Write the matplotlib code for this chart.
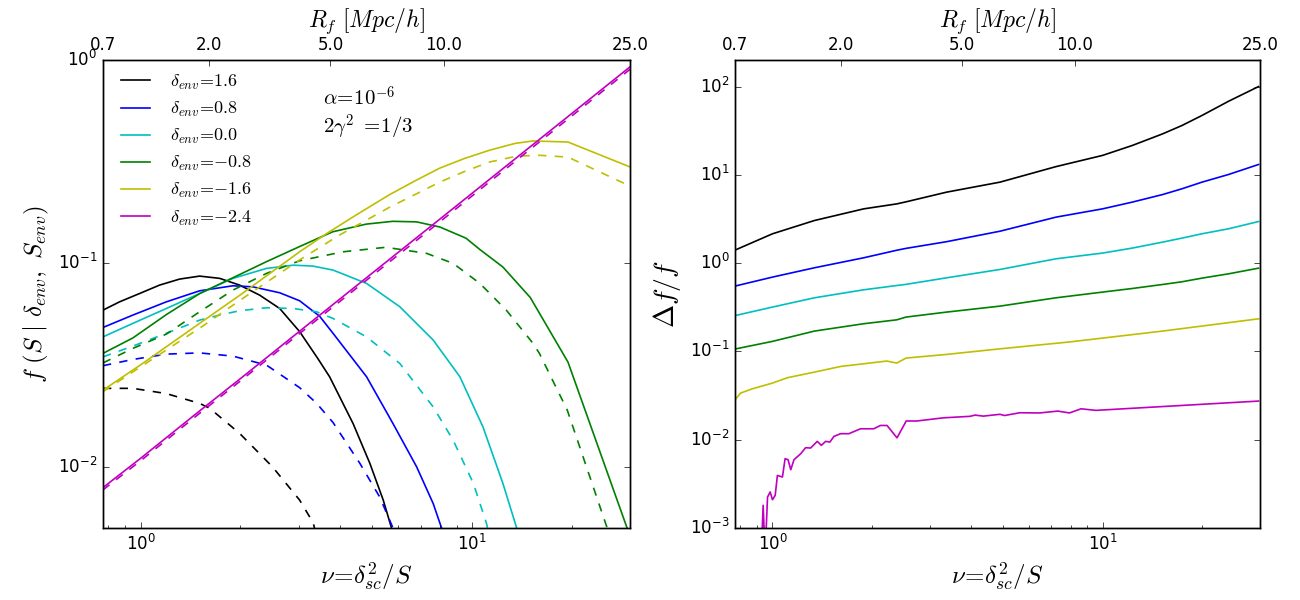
import numpy as np
import matplotlib
matplotlib.use("Agg")
import matplotlib.pyplot as plt

plt.style.use('classic')
plt.rcParams['mathtext.fontset'] = 'cm'
plt.rcParams['font.family'] = ['DejaVu Sans']

# ---- data ----
labels = [r'$\delta_{env}\!=\!{1.6}$', r'$\delta_{env}\!=\!{0.8}$', r'$\delta_{env}\!=\!{0.0}$',
          r'$\delta_{env}\!=\!{-0.8}$', r'$\delta_{env}\!=\!{-1.6}$', r'$\delta_{env}\!=\!{-2.4}$']
colors = ['k', 'b', 'c', 'g', 'y', 'm']

# left panel: f(S|delta_env,S_env), solid and dashed
nu_k = [0.77, 0.864, 0.993, 1.141, 1.311, 1.507, 1.733, 1.99, 2.288, 2.63, 3.02, 3.43, 3.72,
        4.38, 4.92, 5.40, 5.72, 5.85]
f_k = [0.0589, 0.0647, 0.0711, 0.0782, 0.0837, 0.0866, 0.0844, 0.0782, 0.0698, 0.060, 0.0462,
       0.0340, 0.0277, 0.0163, 0.0104, 0.00686, 0.005, 0.0045]
nu_kd = [0.77, 0.948, 1.196, 1.507, 1.616, 1.99, 2.5, 3.02, 3.32, 3.4]
f_kd = [0.0243, 0.0243, 0.0229, 0.0205, 0.0194, 0.0146, 0.0100, 0.00686, 0.0053, 0.0045]

nu_b = [0.77, 0.948, 1.196, 1.507, 1.90, 2.18, 2.63, 3.02, 3.47, 3.81, 4.81, 5.78, 6.81, 7.64,
        8.1, 8.25]
f_b = [0.0484, 0.0557, 0.0647, 0.0733, 0.0776, 0.0767, 0.0717, 0.0655, 0.055, 0.0453, 0.0277,
       0.0163, 0.0100, 0.0066, 0.0050, 0.0045]
nu_bd = [0.77, 0.948, 1.196, 1.507, 1.90, 2.40, 3.02, 3.40, 3.81, 4.59, 5.27, 5.78, 5.9]
f_bd = [0.0314, 0.0337, 0.0358, 0.0363, 0.035, 0.0316, 0.0245, 0.0205, 0.0165, 0.0104, 0.0071,
        0.005, 0.0045]

nu_c = [0.77, 0.948, 1.196, 1.507, 1.90, 2.40, 2.89, 3.31, 3.81, 4.81, 6.06, 7.64, 9.2, 10.8,
        12.4, 13.65, 13.9]
f_c = [0.0435, 0.0507, 0.060, 0.0711, 0.0844, 0.0945, 0.098, 0.097, 0.0927, 0.0797, 0.0612,
       0.042, 0.0277, 0.0157, 0.0083, 0.005, 0.0045]
nu_cd = [0.77, 0.948, 1.196, 1.507, 1.733, 1.99, 2.40, 2.89, 3.40, 3.81, 4.81, 6.06, 7.64, 8.78,
         10.1, 11.07, 11.3]
f_cd = [0.0347, 0.0392, 0.0453, 0.0526, 0.0557, 0.0585, 0.0605, 0.060, 0.0578, 0.0536, 0.0435,
        0.0322, 0.0197, 0.0135, 0.0083, 0.00526, 0.0045]

nu_g = [0.77, 0.948, 1.196, 1.507, 1.9, 2.4, 3.02, 3.8, 4.8, 5.77, 6.81, 8.0, 9.6, 10.57, 12.4,
        15.0, 19.5, 29.4, 30.0]
f_g = [0.0361, 0.043, 0.056, 0.071, 0.085, 0.102, 0.121, 0.143, 0.156, 0.161, 0.160, 0.151,
       0.133, 0.117, 0.096, 0.068, 0.0327, 0.005, 0.0047]
nu_gd = [0.77, 0.948, 1.196, 1.507, 1.9, 2.4, 3.02, 4.08, 5.5, 7.3, 8.78, 10.57, 12.7, 15.3,
         16.0, 19.4, 25.6, 26.3]
f_gd = [0.0324, 0.0382, 0.0449, 0.0578, 0.0739, 0.0893, 0.103, 0.114, 0.120, 0.112, 0.100,
        0.0797, 0.0589, 0.0404, 0.036, 0.019, 0.005, 0.0045]

nu_y = [0.77, 1.0, 1.507, 2.0, 3.02, 3.64, 4.5, 5.65, 6.81, 8.0, 9.5, 11.3, 13.5, 15.3, 19.5, 30.0]
f_y = [0.0238, 0.0317, 0.0507, 0.070, 0.114, 0.140, 0.174, 0.218, 0.257, 0.294, 0.328, 0.36,
       0.389, 0.40, 0.395, 0.298]
nu_yd = [0.77, 1.0, 1.507, 2.0, 3.02, 3.99, 5.65, 6.81, 8.0, 9.5, 11.3, 13.7, 16.0, 19.5, 30.0]
f_yd = [0.0234, 0.031, 0.048, 0.066, 0.104, 0.138, 0.189, 0.22, 0.251, 0.283, 0.315, 0.337,
        0.34, 0.333, 0.24]

nu_m = [0.77, 1.0, 1.5, 2.0, 3.0, 5.0, 8.0, 12.0, 20.0, 30.0]
f_m = [0.0079, 0.011, 0.0187, 0.0271, 0.046, 0.0895, 0.165, 0.28, 0.545, 0.925]
f_md = [0.0077, 0.0107, 0.0182, 0.0264, 0.0448, 0.087, 0.160, 0.272, 0.53, 0.90]

left_solid = [(nu_k, f_k), (nu_b, f_b), (nu_c, f_c), (nu_g, f_g), (nu_y, f_y), (nu_m, f_m)]
left_dash = [(nu_kd, f_kd), (nu_bd, f_bd), (nu_cd, f_cd), (nu_gd, f_gd), (nu_yd, f_yd), (nu_m, f_md)]

# right panel: Delta f / f
nu_r = [0.775, 1.0, 1.34, 1.89, 2.38, 2.54, 3.37, 4.89, 7.23, 10.0, 12.3, 15.2, 17.4, 20.0, 24.1, 29.7]
df_k = [1.42, 2.15, 3.04, 4.12, 4.69, 4.95, 6.37, 8.27, 12.4, 16.6, 21.5, 29.1, 36.2, 47.0, 68.2, 100.0]
df_b = [0.553, 0.695, 0.886, 1.15, 1.40, 1.47, 1.75, 2.30, 3.32, 4.12, 4.91, 5.98, 6.95, 8.26, 10.1, 13.1]
df_c = [0.256, 0.318, 0.405, 0.499, 0.558, 0.575, 0.682, 0.848, 1.12, 1.30, 1.48, 1.73, 1.92, 2.15, 2.45, 2.96]
df_g = [0.107, 0.13, 0.170, 0.206, 0.228, 0.245, 0.279, 0.326, 0.405, 0.470, 0.516, 0.573, 0.615, 0.676,
        0.757, 0.877]
nu_ry = [0.775, 0.80, 0.87, 1.0, 1.11, 1.34, 1.61, 1.89, 2.22, 2.38, 2.54, 3.37, 4.89, 7.94, 15.2, 29.7]
df_y = [0.0291, 0.0337, 0.0378, 0.0438, 0.0504, 0.0583, 0.0676, 0.0725, 0.0778, 0.0738, 0.0841,
        0.0925, 0.107, 0.128, 0.170, 0.234]
nu_rm = [0.925, 0.929, 0.937, 0.950, 0.966, 0.984, 1.0, 1.019, 1.035, 1.072, 1.092, 1.115, 1.136,
         1.162, 1.218, 1.260, 1.305, 1.367, 1.406, 1.449, 1.493, 1.535, 1.608, 1.704, 1.848,
         2.027, 2.123, 2.224, 2.384, 2.543, 2.739, 3.297, 3.968, 4.108, 4.355, 4.888, 5.05,
         5.61, 6.45, 7.32, 7.94, 8.61, 9.55, 29.7]
df_m = [0.0005, 0.0008, 0.00181, 0.0005, 0.00224, 0.00256, 0.00209, 0.00234, 0.00394, 0.00378,
        0.0061, 0.00594, 0.00457, 0.00594, 0.00695, 0.00812, 0.00805, 0.00958, 0.00863, 0.00958,
        0.00941, 0.0109, 0.0117, 0.0117, 0.0133, 0.0133, 0.0145, 0.0145, 0.0105, 0.0163, 0.0163,
        0.0177, 0.0184, 0.0190, 0.0185, 0.0194, 0.0188, 0.0202, 0.0201, 0.0211, 0.0201, 0.0224,
        0.0215, 0.0274]
right_lines = [(nu_r, df_k), (nu_r, df_b), (nu_r, df_c), (nu_r, df_g), (nu_ry, df_y), (nu_rm, df_m)]

# top axis: smoothing radius R_f placed at the matching nu
rf_nu = [0.77, 1.61, 3.74, 8.23, 30.0]
rf_labels = ['0.7', '2.0', '5.0', '10.0', '25.0']

xlim = (0.77, 30.0)

fig = plt.figure(figsize=(13, 6), dpi=100, facecolor='white')
ax1 = fig.add_axes([0.0792, 0.12, 0.4054, 0.78])
ax2 = fig.add_axes([0.5654, 0.12, 0.4038, 0.78])

for (x, y), (xd, yd), c, lab in zip(left_solid, left_dash, colors, labels):
    ax1.plot(x, y, '-', color=c, lw=1.2, label=lab)
    ax1.plot(xd, yd, '--', color=c, lw=1.2)
for (x, y), c in zip(right_lines, colors):
    ax2.plot(x, y, '-', color=c, lw=1.2)

ax1.set_xscale('log')
ax1.set_yscale('log')
ax1.set_xlim(xlim)
ax1.set_ylim(5e-3, 1.0)
ax1.set_xlabel(r'$\nu\!=\!\delta_{sc}^2/S$', fontsize=18)
ax1.set_ylabel(r'$f\ (S\ |\ \delta_{env},\ S_{env})$', fontsize=18)
ax1.legend(loc='upper left', frameon=False, fontsize=13, handlelength=2.2,
           labelspacing=0.45, borderaxespad=0.3)
ax1.text(0.417, 0.92, r'$\alpha\!=\!10^{-6}$', transform=ax1.transAxes, fontsize=15, va='center')
ax1.text(0.417, 0.855, r'$2\gamma^2\ =\!1/3$', transform=ax1.transAxes, fontsize=15, va='center')

ax2.set_xscale('log')
ax2.set_yscale('log')
ax2.set_xlim(xlim)
ax2.set_ylim(1e-3, 200)
ax2.set_xlabel(r'$\nu\!=\!\delta_{sc}^2/S$', fontsize=18)
ax2.set_ylabel(r'$\Delta f/f$', fontsize=20)

for ax in (ax1, ax2):
    ax.tick_params(labelsize=12)
    top = ax.twiny()
    top.set_xscale('log')
    top.set_xlim(xlim)
    top.set_xticks(rf_nu)
    top.set_xticklabels(rf_labels, fontsize=12)
    top.minorticks_off()
    top.set_xlabel(r'$R_f\ [Mpc/h]$', fontsize=17, labelpad=7)

fig.savefig('out.png', dpi=100, facecolor='white')
